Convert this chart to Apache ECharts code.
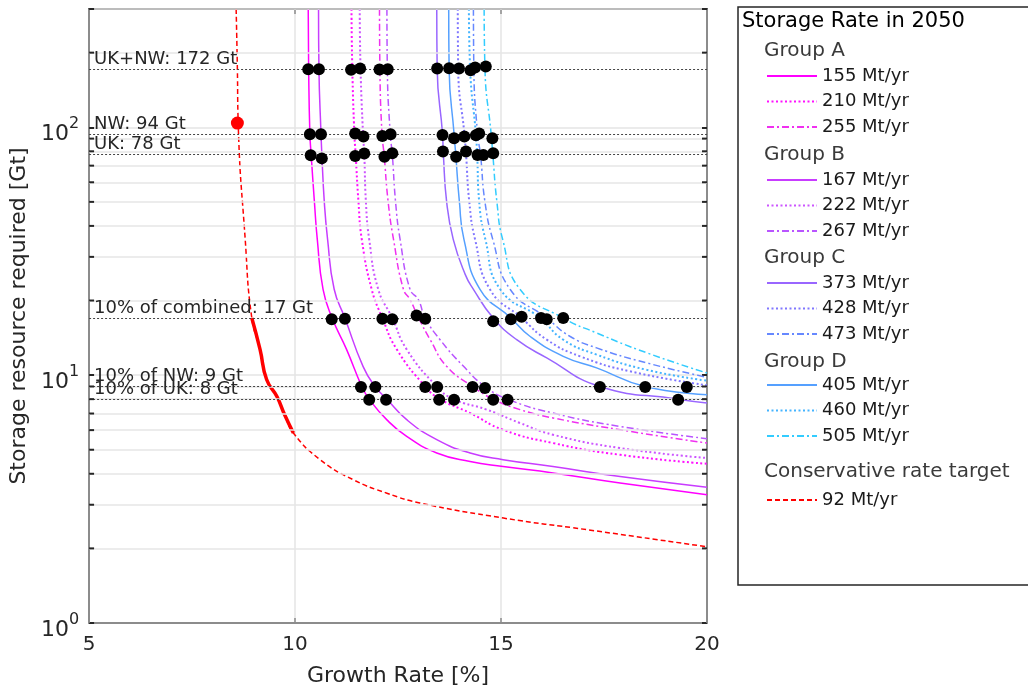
<!DOCTYPE html>
<html>
<head>
<meta charset="utf-8">
<title>Storage resource vs growth rate</title>
<script src="https://cdn.jsdelivr.net/npm/echarts@6/dist/echarts.min.js"></script>
<style>
  html, body { margin: 0; padding: 0; background: #fff; }
  #main { width: 1028px; height: 697px; }
</style>
</head>
<body>
<div id="main"></div>
<script>
// x = growth rate [%], y = storage resource required [Gt]
const groupA155 = [[10.32, 300], [10.33, 172], [10.36, 94], [10.39, 78], [10.47, 50], [10.54, 35.3], [10.68, 22.2], [10.9, 17], [11.25, 12.7], [11.62, 9.0], [11.8, 8.0], [12.23, 6.6], [12.71, 5.66], [13.44, 4.85], [14.25, 4.48], [15.05, 4.28], [16.26, 4.03], [17.89, 3.67], [20, 3.29]]
const groupA210 = [[11.37, 300], [11.39, 172], [11.44, 94], [11.47, 78], [11.54, 50], [11.62, 35.3], [11.86, 22.2], [12.12, 17], [12.47, 12.7], [13.16, 9.0], [13.52, 8.0], [14.25, 7.03], [15.05, 6.02], [16.26, 5.32], [17.89, 4.77], [20, 4.39]]
const groupA255 = [[12.05, 300], [12.06, 172], [12.11, 94], [12.16, 78], [12.26, 50], [12.39, 35.3], [12.63, 22.2], [12.79, 20.2], [13.0, 17], [13.28, 13.9], [13.68, 10.85], [14.31, 9.0], [14.81, 8.0], [15.46, 7.26], [16.26, 6.72], [17.89, 6.02], [20, 5.32]]
const groupB167 = [[10.57, 300], [10.58, 172], [10.63, 94], [10.65, 78], [10.71, 50], [10.79, 35.3], [10.95, 22.2], [11.21, 17], [11.65, 10.85], [11.94, 9.0], [12.23, 8.0], [12.71, 6.61], [13.44, 5.49], [14.25, 4.85], [15.05, 4.56], [16.26, 4.28], [17.89, 3.9], [20, 3.53]]
const groupB222 = [[11.57, 300], [11.59, 172], [11.65, 94], [11.68, 78], [11.72, 50], [11.8, 35.3], [12.02, 22.2], [12.36, 17], [12.71, 12.7], [13.44, 9.0], [13.85, 8.0], [14.65, 7.26], [15.46, 6.41], [16.26, 5.75], [17.89, 5.08], [20, 4.63]]
const groupB267 = [[12.23, 300], [12.24, 172], [12.31, 94], [12.36, 78], [12.44, 50], [12.55, 35.3], [12.79, 22.2], [12.99, 20.2], [13.16, 17], [13.52, 13.9], [14.09, 10.85], [14.61, 9.0], [15.16, 8.0], [16.26, 7.03], [17.89, 6.21], [20, 5.54]]
const groupC373 = [[13.44, 300], [13.45, 172], [13.58, 94], [13.6, 78], [13.68, 50], [13.84, 35.3], [14.13, 25.5], [14.33, 22.2], [14.81, 17], [15.38, 13.9], [16.11, 11.74], [17.4, 9.0], [19.3, 8.0], [20, 7.72]]
const groupC428 = [[13.95, 300], [13.96, 172], [14.11, 94], [14.15, 78], [14.23, 50], [14.37, 35.3], [14.73, 22.2], [15.5, 17], [16.11, 13.9], [16.92, 11.91], [18.13, 10.36], [20, 9.1]]
const groupC473 = [[14.33, 300], [14.34, 172], [14.43, 94], [14.5, 78], [14.61, 50], [14.8, 35.3], [15.22, 22.2], [16.11, 17], [16.67, 14.35], [17.32, 12.88], [18.54, 11.2], [20, 9.8]]
const groupD405 = [[13.73, 300], [13.74, 172], [13.86, 94], [13.9, 78], [13.99, 50], [14.1, 35.3], [14.49, 22.2], [15.24, 17], [15.7, 14.35], [16.51, 11.91], [17.32, 10.7], [18.5, 9.0], [20, 8.34]]
const groupD460 = [[14.22, 300], [14.25, 172], [14.39, 94], [14.42, 78], [14.47, 50], [14.62, 35.3], [14.98, 22.2], [15.95, 17], [16.51, 13.9], [17.32, 12.1], [18.54, 10.5], [20, 9.5]]
const groupD505 = [[14.59, 300], [14.61, 172], [14.76, 94], [14.8, 78], [14.9, 50], [15.04, 35.3], [15.46, 22.2], [16.51, 17], [17.32, 14.8], [18.54, 12.3], [20, 10.2]]
const conservative92 = [[8.57, 300], [8.6, 172], [8.62, 104], [8.79, 35.3], [8.95, 17], [9.15, 12.7], [9.31, 9.6], [9.56, 8.2], [9.75, 6.9], [9.96, 5.84], [10.61, 4.56], [11.42, 3.78], [12.23, 3.34], [13.03, 3.05], [15.06, 2.65], [17.08, 2.38], [20, 2.03]]
const conservativeBold = [[8.95, 17], [9.15, 12.7], [9.31, 9.6], [9.56, 8.2], [9.75, 6.9], [9.96, 5.84]]
const conservativePoint = [[8.6, 104]]

// reference storage capacities
const refValues = [172, 94, 78, 17, 9, 8]
const refLabels = ['UK+NW: 172 Gt', 'NW: 94 Gt', 'UK: 78 Gt', '10% of combined: 17 Gt', '10% of NW: 9 Gt', '10% of UK: 8 Gt']

// black markers where the rate curves meet the reference capacities
const dots172 = [[10.32, 171.6], [10.58, 171.6], [11.36, 170.5], [11.58, 172.7], [12.05, 171.1], [12.25, 171.6], [13.45, 172.7], [13.74, 173.2], [13.98, 172.7], [14.26, 170.0], [14.37, 174.3], [14.63, 175.9]]
const dots94 = [[10.36, 93.7], [10.63, 93.7], [11.46, 94.3], [11.66, 91.7], [12.12, 92.2], [12.32, 93.7], [13.58, 93.1], [13.86, 90.3], [14.11, 91.7], [14.39, 92.8], [14.47, 94.3], [14.79, 90.3]]
const dots78 = [[10.38, 77.1], [10.65, 74.9], [11.46, 76.6], [11.68, 78.3], [12.17, 76.1], [12.36, 78.5], [13.59, 79.8], [13.91, 76.1], [14.15, 79.8], [14.43, 77.3], [14.57, 77.3], [14.81, 78.5]]
const dots17 = [[10.89, 16.8], [11.21, 16.9], [12.12, 16.9], [12.36, 16.8], [12.95, 17.4], [13.16, 16.9], [14.81, 16.5], [15.24, 16.8], [15.5, 17.2], [15.97, 17.0], [16.11, 16.8], [16.51, 17.0]]
const dots9 = [[11.6, 8.96], [11.95, 8.96], [13.16, 8.96], [13.45, 8.96], [14.31, 8.96], [14.61, 8.88], [17.4, 8.96], [18.5, 8.96], [19.51, 8.96]]
const dots8 = [[11.8, 7.96], [12.21, 7.96], [13.5, 7.96], [13.86, 7.96], [14.81, 7.96], [15.16, 7.96], [19.3, 7.96]]

// minor log ticks / grid lines
const minorValues = [2, 3, 4, 5, 6, 7, 8, 9, 20, 30, 40, 50, 60, 70, 80, 90, 200, 300]

const FONT = 'DejaVu Sans'
const DOTTED = [2, 2.5]
const DASHDOT = [7, 3, 2, 3]

const curves = [
  { name: '155 Mt/yr', data: groupA155, color: '#ff00ff', type: 'solid', width: 1.5 },
  { name: '210 Mt/yr', data: groupA210, color: '#ff10ff', type: DOTTED, width: 2 },
  { name: '255 Mt/yr', data: groupA255, color: '#f030f0', type: DASHDOT, width: 1.5 },
  { name: '167 Mt/yr', data: groupB167, color: '#c83cff', type: 'solid', width: 1.5 },
  { name: '222 Mt/yr', data: groupB222, color: '#cc55ff', type: DOTTED, width: 2 },
  { name: '267 Mt/yr', data: groupB267, color: '#b955ff', type: DASHDOT, width: 1.5 },
  { name: '373 Mt/yr', data: groupC373, color: '#9966ff', type: 'solid', width: 1.5 },
  { name: '428 Mt/yr', data: groupC428, color: '#8077ff', type: DOTTED, width: 2 },
  { name: '473 Mt/yr', data: groupC473, color: '#6688ff', type: DASHDOT, width: 1.5 },
  { name: '405 Mt/yr', data: groupD405, color: '#55a0ff', type: 'solid', width: 1.5 },
  { name: '460 Mt/yr', data: groupD460, color: '#44b4ff', type: DOTTED, width: 2 },
  { name: '505 Mt/yr', data: groupD505, color: '#33ccff', type: DASHDOT, width: 1.5 },
  { name: '92 Mt/yr', data: conservative92, color: '#ff0000', type: [5, 3], width: 1.5 }
]

const series = []

// light minor grid lines
series.push({
  type: 'line', data: [], silent: true, z: 1,
  markLine: {
    silent: true, symbol: 'none', animation: false,
    label: { show: false },
    lineStyle: { color: '#e6e6e6', width: 1.5, type: 'solid' },
    data: minorValues.map(v => ({ yAxis: v }))
  }
})

// dotted reference lines with their labels
series.push({
  type: 'line', data: [], silent: true, z: 2,
  markLine: {
    silent: true, symbol: 'none', animation: false,
    lineStyle: { color: '#444', width: 1, type: [2, 2] },
    label: {
      show: true, position: 'insideStartTop', distance: [5, 1],
      formatter: '{b}', fontFamily: FONT, fontSize: 18, color: '#262626'
    },
    data: refValues.map((v, i) => ({ yAxis: v, name: refLabels[i] }))
  }
})

curves.forEach(c => {
  series.push({
    name: c.name, type: 'line', data: c.data,
    symbol: 'none', showSymbol: false,
    smooth: 0.5,
    z: 3, animation: false,
    itemStyle: { color: c.color },
    lineStyle: { color: c.color, width: c.width, type: c.type }
  })
})

// solid, thicker part of the conservative target curve
series.push({
  type: 'line', data: conservativeBold, symbol: 'none', showSymbol: false,
  smooth: 0.5, z: 4, silent: true, animation: false,
  lineStyle: { color: '#ff0000', width: 3.5 }
})

series.push({
  type: 'scatter', data: conservativePoint, symbolSize: 13, z: 5, animation: false,
  itemStyle: { color: '#ff0000', opacity: 1 }
})

series.push({
  type: 'scatter', data: [].concat(dots172, dots94, dots78, dots17, dots9, dots8),
  symbolSize: 12, z: 5, animation: false,
  itemStyle: { color: '#000', opacity: 1 }
})

// minor tick marks on the left and right edges
series.push({
  type: 'scatter', data: minorValues.map(v => [5, v]), symbol: 'rect',
  symbolSize: [5, 2], symbolOffset: [2.5, 0], z: 6, silent: true, animation: false,
  itemStyle: { color: '#262626', opacity: 1 }
})
series.push({
  type: 'scatter', data: minorValues.map(v => [20, v]), symbol: 'rect',
  symbolSize: [5, 2], symbolOffset: [-2.5, 0], z: 6, silent: true, animation: false,
  itemStyle: { color: '#262626', opacity: 1 }
})

const legendBase = {
  left: 766, orient: 'vertical', itemWidth: 50, itemHeight: 10, itemGap: 7.5,
  padding: 0, selectedMode: false,
  itemStyle: { opacity: 0, borderWidth: 0 },
  textStyle: { fontFamily: FONT, fontSize: 18, color: '#1a1a1a' }
}
const legendGroups = [
  { top: 67, data: ['155 Mt/yr', '210 Mt/yr', '255 Mt/yr'] },
  { top: 171, data: ['167 Mt/yr', '222 Mt/yr', '267 Mt/yr'] },
  { top: 274, data: ['373 Mt/yr', '428 Mt/yr', '473 Mt/yr'] },
  { top: 376, data: ['405 Mt/yr', '460 Mt/yr', '505 Mt/yr'] },
  { top: 491, data: ['92 Mt/yr'] }
]

function headerText(text, x, y, size, color) {
  return {
    type: 'text', x: x, y: y, silent: true,
    style: { text: text, fontFamily: FONT, fontSize: size, fill: color, verticalAlign: 'middle' }
  }
}

const axisLineStyle = { color: '#8c8c8c', width: 2 }

const option = {
  backgroundColor: '#fff',
  animation: false,
  grid: { left: 89, right: 321, top: 9, bottom: 74 },
  xAxis: [{
    type: 'value', min: 5, max: 20, interval: 5,
    name: 'Growth Rate [%]', nameLocation: 'middle', nameGap: 42,
    nameTextStyle: { fontFamily: FONT, fontSize: 22, color: '#262626' },
    axisLine: { show: true, onZero: false, lineStyle: axisLineStyle },
    axisTick: { show: true, inside: true, length: 5, lineStyle: { color: '#8c8c8c', width: 1.5 } },
    axisLabel: { fontFamily: FONT, fontSize: 20, color: '#262626', margin: 12 },
    splitLine: { show: true, lineStyle: { color: '#e4e4e4', width: 1.5 } }
  }, {
    type: 'value', min: 5, max: 20, interval: 5, position: 'top',
    axisLine: { show: true, onZero: false, lineStyle: { color: '#404040', width: 2 } },
    axisTick: { show: true, inside: true, length: 5, lineStyle: { color: '#8c8c8c', width: 1.5 } },
    axisLabel: { show: false },
    splitLine: { show: false }
  }],
  yAxis: [{
    type: 'log', logBase: 10, min: 1, max: 300,
    name: 'Storage resource required [Gt]', nameLocation: 'middle', nameGap: 52,
    nameTextStyle: { fontFamily: FONT, fontSize: 22, color: '#262626' },
    axisLine: { show: true, onZero: false, lineStyle: axisLineStyle },
    axisTick: { show: true, inside: true, length: 5, lineStyle: { color: '#262626', width: 2 } },
    axisLabel: {
      margin: 10,
      formatter: function (v) {
        const e = Math.round(Math.log10(v))
        if (Math.abs(Math.log10(v) - e) > 1e-6) return ''
        return '{b|10}{s|' + e + '}'
      },
      rich: {
        b: { fontFamily: FONT, fontSize: 22, color: '#262626', lineHeight: 22, padding: [14, 0, 0, 0] },
        s: { fontFamily: FONT, fontSize: 16, color: '#262626', lineHeight: 16, padding: [0, 0, 0, 0], verticalAlign: 'top' }
      }
    },
    splitLine: { show: true, lineStyle: { color: '#e4e4e4', width: 1.5 } }
  }, {
    type: 'log', logBase: 10, min: 1, max: 300, position: 'right',
    axisLine: { show: true, onZero: false, lineStyle: axisLineStyle },
    axisTick: { show: true, inside: true, length: 5, lineStyle: { color: '#262626', width: 2 } },
    axisLabel: { show: false },
    splitLine: { show: false }
  }],
  legend: legendGroups.map(g => Object.assign({}, legendBase, g)),
  graphic: [
    {
      type: 'rect', silent: true,
      shape: { x: 738, y: 7, width: 320, height: 578 },
      style: { fill: 'none', stroke: '#262626', lineWidth: 1.5 }
    },
    headerText('Storage Rate in 2050', 742, 22, 21, '#000'),
    headerText('Group A', 764, 51, 20, '#3a3a3a'),
    headerText('Group B', 764, 155, 20, '#3a3a3a'),
    headerText('Group C', 764, 258, 20, '#3a3a3a'),
    headerText('Group D', 764, 362, 20, '#3a3a3a'),
    headerText('Conservative rate target', 764, 472, 20, '#3a3a3a')
  ],
  series: series
}

const chart = echarts.init(document.getElementById('main'))
chart.setOption(option)
</script>
</body>
</html>
